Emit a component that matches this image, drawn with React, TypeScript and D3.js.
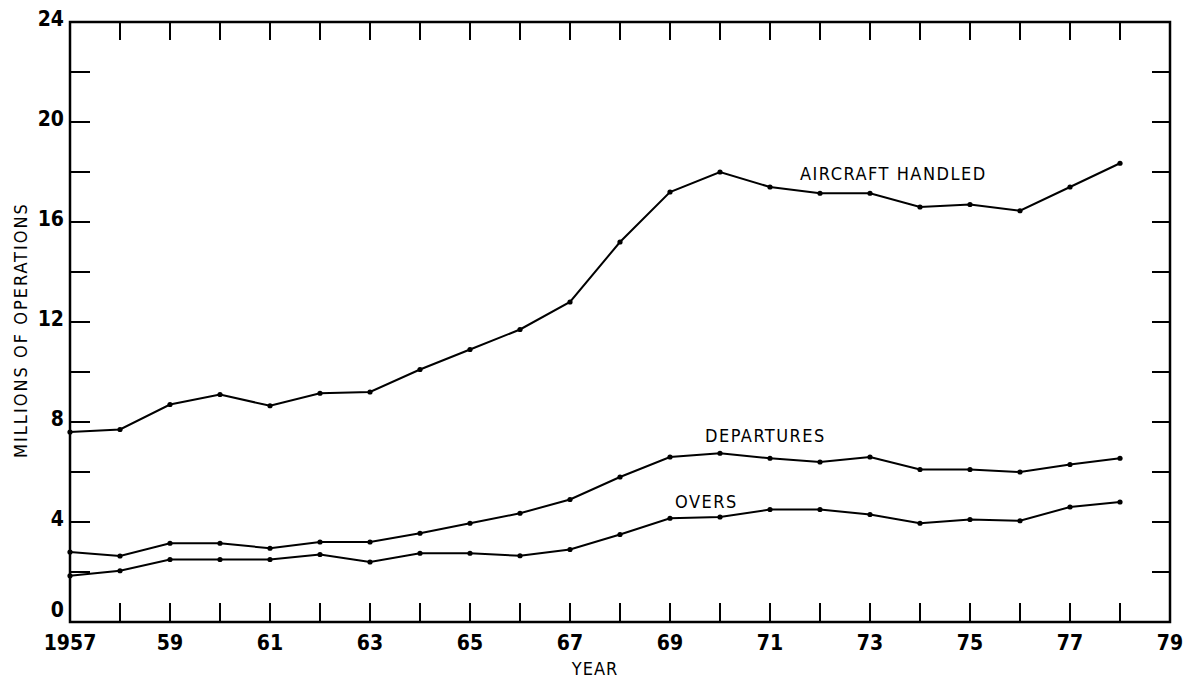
import * as d3 from "d3";

const years = d3.range(1957, 1979);
const aircraftHandled = [7.6, 7.7, 8.7, 9.1, 8.65, 9.15, 9.2, 10.1, 10.9, 11.7, 12.8, 15.2, 17.2, 18.0, 17.4, 17.15, 17.15, 16.6, 16.7, 16.45, 17.4, 18.35];
const departures = [2.8, 2.64, 3.15, 3.15, 2.95, 3.2, 3.2, 3.55, 3.95, 4.35, 4.9, 5.8, 6.6, 6.75, 6.55, 6.4, 6.6, 6.1, 6.1, 6.0, 6.3, 6.55];
const overs = [1.85, 2.05, 2.5, 2.5, 2.5, 2.7, 2.4, 2.75, 2.75, 2.65, 2.9, 3.5, 4.15, 4.2, 4.5, 4.5, 4.3, 3.95, 4.1, 4.05, 4.6, 4.8];
const yTickLabels = [0, 4, 8, 12, 16, 20, 24];
const xTickLabels = [1957, 1959, 1961, 1963, 1965, 1967, 1969, 1971, 1973, 1975, 1977, 1979];

const series = [
  { name: "AIRCRAFT HANDLED", values: aircraftHandled, lx: 800, ly: 180 },
  { name: "DEPARTURES", values: departures, lx: 705, ly: 442 },
  { name: "OVERS", values: overs, lx: 675, ly: 508 },
];

// typewriter-ish narrow lettering
const narrow = "'Liberation Sans Narrow', 'DejaVu Sans Condensed', sans-serif";
const cond = "'DejaVu Sans Condensed', 'Liberation Sans Narrow', sans-serif";

export default function App() {
  const left = 70, right = 1170, top = 22, bottom = 622;
  const x = d3.scaleLinear().domain([1957, 1979]).range([left, right]);
  const y = d3.scaleLinear().domain([0, 24]).range([bottom, top]);
  const line = d3
    .line<number>()
    .x((_, i) => x(years[i]))
    .y((d) => y(d));
  const minorY = d3.range(2, 24, 2);
  const minorX = d3.range(1958, 1979);

  return (
    <svg
      width={1188}
      height={680}
      style={{ position: "absolute", left: 0, top: 0, background: "white" }}
    >
      <rect x={left} y={top} width={right - left} height={bottom - top} fill="none" stroke="black" strokeWidth={2.5} />

      {/* ticks, all pointing inward */}
      {minorY.map((d) => (
        <g key={"y" + d}>
          <line x1={left} x2={left + 20} y1={y(d)} y2={y(d)} stroke="black" strokeWidth={2} />
          <line x1={right} x2={right - 18} y1={y(d)} y2={y(d)} stroke="black" strokeWidth={2} />
        </g>
      ))}
      {minorX.map((d) => (
        <g key={"x" + d}>
          <line x1={x(d)} x2={x(d)} y1={bottom} y2={bottom - 19} stroke="black" strokeWidth={2} />
          <line x1={x(d)} x2={x(d)} y1={top} y2={top + 18} stroke="black" strokeWidth={2} />
        </g>
      ))}

      {yTickLabels.map((d) => (
        <text
          key={d}
          x={left - 6}
          y={d === 0 ? y(d) - 5 : y(d) + 4}
          textAnchor="end"
          fontFamily={narrow}
          fontWeight="bold"
          fontSize={21}
        >
          {d}
        </text>
      ))}
      {xTickLabels.map((d, i) => (
        <text key={d} x={x(d)} y={650} textAnchor="middle" fontFamily={narrow} fontWeight="bold" fontSize={21}>
          {i === 0 ? d : String(d).slice(2)}
        </text>
      ))}

      <text x={595} y={675} textAnchor="middle" fontFamily={cond} fontSize={18} letterSpacing={1}>
        YEAR
      </text>
      <text
        transform="translate(27, 330) rotate(-90)"
        textAnchor="middle"
        fontFamily={cond}
        fontSize={18}
        letterSpacing={2}
      >
        MILLIONS OF OPERATIONS
      </text>

      {series.map((s) => (
        <g key={s.name}>
          <path d={line(s.values) ?? ""} fill="none" stroke="black" strokeWidth={2} />
          {s.values.map((v, i) => (
            <circle key={i} cx={x(years[i])} cy={y(v)} r={2.6} fill="black" />
          ))}
          <text x={s.lx} y={s.ly} fontFamily={cond} fontSize={18} letterSpacing={1.5}>
            {s.name}
          </text>
        </g>
      ))}
    </svg>
  );
}
